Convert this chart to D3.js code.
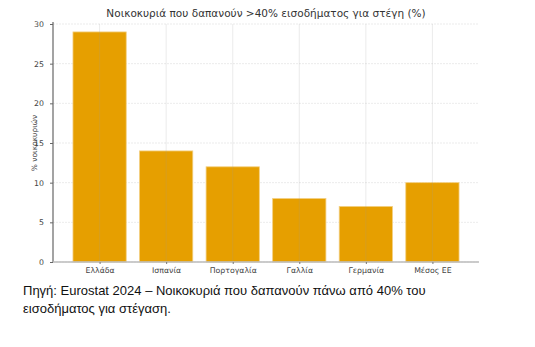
<!DOCTYPE html>
<meta charset="utf-8">
<style>
body { margin: 0; background: #fff; width: 535px; height: 347px; overflow: hidden; }
.axis text { font-family: "DejaVu Sans", sans-serif; font-size: 7.8px; fill: #444; }
.caption { position: absolute; left: 23px; top: 282px; width: 470px;
  font-family: "Liberation Sans", Arial, sans-serif; font-size: 13px; line-height: 18px; color: #111; }
</style>
<body>
<script src="https://cdn.jsdelivr.net/npm/d3@7"></script>
<div class="caption">Πηγή: Eurostat 2024 – Νοικοκυριά που δαπανούν πάνω από 40% του εισοδήματος για στέγαση.</div>
<script>
// data
var countries = ["Ελλάδα", "Ισπανία", "Πορτογαλία", "Γαλλία", "Γερμανία", "Μέσος ΕΕ"];
var shares = [29, 14, 12, 8, 7, 10];
var yTicks = [0, 5, 10, 15, 20, 25, 30];

var margin = {top: 24, right: 56, bottom: 85, left: 53},
    width = 535 - margin.left - margin.right,
    height = 347 - margin.top - margin.bottom;

var svg = d3.select("body").append("svg")
    .attr("width", 535)
    .attr("height", 347)
    .style("position", "absolute").style("left", 0).style("top", 0);

var g = svg.append("g")
    .attr("transform", "translate(" + margin.left + "," + margin.top + ")");

// matplotlib-like index axis: xlim -0.7 .. n-0.3
var x = d3.scaleLinear()
    .domain([-0.7, countries.length - 0.3])
    .range([0, width]);
var bw = x(0.4) - x(0);

var y = d3.scaleLinear()
    .domain([0, 30])
    .range([height, 0]);

// horizontal grid
g.selectAll(".hgrid").data(yTicks).enter().append("line")
    .attr("x1", 0).attr("x2", width)
    .attr("y1", function(d) { return y(d); })
    .attr("y2", function(d) { return y(d); })
    .attr("stroke", "#e6e6e6").attr("stroke-width", 0.8)
    .attr("stroke-dasharray", "2,1");

// bars
g.selectAll(".bar").data(shares).enter().append("rect")
    .attr("class", "bar")
    .attr("x", function(d, i) { return x(i) - bw; })
    .attr("width", bw * 2)
    .attr("y", function(d) { return y(d); })
    .attr("height", function(d) { return height - y(d); })
    .attr("fill", "#E69F00")
    .attr("stroke", "#f3cf80").attr("stroke-width", 0.8);

// vertical grid (drawn over bars)
g.selectAll(".vgrid").data(countries).enter().append("line")
    .attr("x1", function(d, i) { return x(i); })
    .attr("x2", function(d, i) { return x(i); })
    .attr("y1", 0).attr("y2", height)
    .attr("stroke", "#999").attr("stroke-opacity", 0.25).attr("stroke-width", 0.8);

// y axis
var yAxis = g.append("g").attr("class", "axis")
    .call(d3.axisLeft(y).tickValues(yTicks).tickSize(3).tickPadding(6));
yAxis.select(".domain").attr("stroke", "#666").attr("stroke-width", 1.2)
    .attr("d", "M0," + (y(30) - 2) + "V" + height);
yAxis.selectAll(".tick line").attr("stroke", "#666");

// x axis
var xAxis = g.append("g").attr("class", "axis")
    .attr("transform", "translate(0," + height + ")")
    .call(d3.axisBottom(x).tickValues(d3.range(countries.length))
        .tickFormat(function(i) { return countries[i]; })
        .tickSize(2).tickPadding(3));
xAxis.select(".domain").attr("stroke", "#bbb").attr("stroke-width", 1.4)
    .attr("d", "M0,0H" + width);
xAxis.selectAll(".tick line").attr("stroke", "#777");

// title
svg.append("text")
    .attr("x", margin.left + width / 2)
    .attr("y", 17)
    .attr("text-anchor", "middle")
    .style("font-family", "DejaVu Sans, sans-serif")
    .style("font-size", "10.5px")
    .style("fill", "#333")
    .text("Νοικοκυριά που δαπανούν >40% εισοδήματος για στέγη (%)");

// y label
svg.append("text")
    .attr("transform", "rotate(-90)")
    .attr("x", -(margin.top + height / 2))
    .attr("y", 37)
    .attr("text-anchor", "middle")
    .style("font-family", "DejaVu Sans, sans-serif")
    .style("font-size", "7.5px")
    .style("fill", "#444")
    .text("% νοικοκυριών");
</script>
</body>
